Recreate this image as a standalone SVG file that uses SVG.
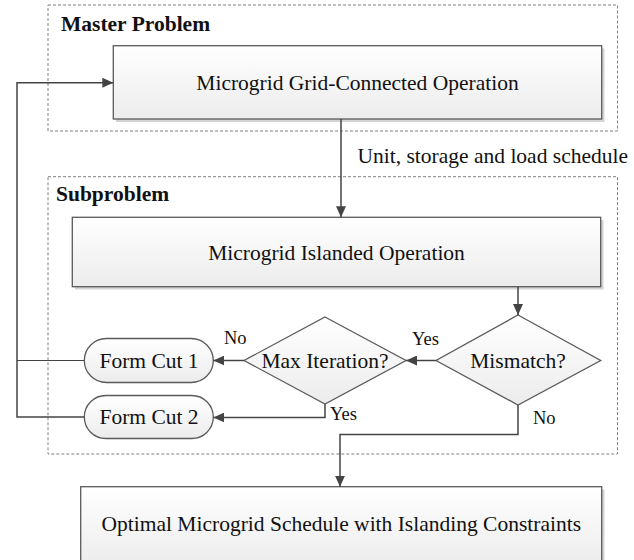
<svg xmlns="http://www.w3.org/2000/svg" width="634" height="560" viewBox="0 0 634 560">
<defs>
<linearGradient id="g" x1="0" y1="0" x2="0" y2="1">
<stop offset="0" stop-color="#ffffff"/>
<stop offset="1" stop-color="#ececec"/>
</linearGradient>
<marker id="ah" markerUnits="userSpaceOnUse" markerWidth="12" markerHeight="10" refX="11" refY="5" orient="auto">
<path d="M0,0 L11,5 L0,10 Z" fill="#444"/>
</marker>
</defs>
<style>
.frame{fill:none;stroke:#808080;stroke-width:1;stroke-dasharray:3,2}
.box{fill:url(#g);stroke:#5a5a5a;stroke-width:1.3}
.shadow{fill:#d4d4d4}
.t{font-family:"Liberation Serif","Times New Roman",serif;font-size:21.5px;fill:#111}
.h{font-family:"Liberation Serif","Times New Roman",serif;font-size:21.5px;font-weight:bold;fill:#111}
.l{font-family:"Liberation Serif","Times New Roman",serif;font-size:18.5px;fill:#111}
.c{fill:none;stroke:#444;stroke-width:1.5}
.a{marker-end:url(#ah)}
</style>
<rect width="634" height="560" fill="#fff"/>

<g id="master">
<rect class="frame" x="48" y="5" width="569.5" height="126"/>
<text class="h" x="61" y="31">Master Problem</text>
</g>
<g id="subproblem">
<rect class="frame" x="48" y="176.7" width="569.5" height="277.3"/>
<text class="h" x="56" y="200.7">Subproblem</text>
</g>

<g id="grid-connected">
<rect class="shadow" x="116" y="48.5" width="488.5" height="73.5"/>
<rect class="box" x="113.3" y="45.7" width="488.4" height="73.3"/>
<text class="t" x="357.5" y="90" text-anchor="middle">Microgrid Grid-Connected Operation</text>
</g>

<g id="islanded">
<rect class="shadow" x="75" y="220" width="528.5" height="69.5"/>
<rect class="box" x="72.3" y="217.3" width="528.4" height="69.4"/>
<text class="t" x="336.5" y="259.5" text-anchor="middle">Microgrid Islanded Operation</text>
</g>

<g id="mismatch">
<polygon class="box" points="518,315 600.7,360.5 518,405 436,360.5"/>
<text class="t" x="518" y="368" text-anchor="middle">Mismatch?</text>
</g>

<g id="max-iteration">
<polygon class="box" points="325,317 406,360.5 325,404 244,360.5"/>
<text class="t" x="325" y="368" text-anchor="middle">Max Iteration?</text>
</g>

<g id="form-cut-1">
<rect class="box" x="84.3" y="338.5" width="129" height="44" rx="22" ry="22"/>
<text class="t" x="149" y="367.7" text-anchor="middle">Form Cut 1</text>
</g>

<g id="form-cut-2">
<rect class="box" x="84.3" y="395.5" width="129" height="43" rx="21.5" ry="21.5"/>
<text class="t" x="149" y="424" text-anchor="middle">Form Cut 2</text>
</g>

<g id="optimal">
<rect class="shadow" x="83.5" y="489.5" width="521" height="80"/>
<rect class="box" x="80.7" y="486.7" width="521" height="80"/>
<text class="t" x="341.3" y="530.7" text-anchor="middle">Optimal Microgrid Schedule with Islanding Constraints</text>
</g>

<g id="connectors">
<path class="c a" d="M341,119 V217.3"/>
<path class="c a" d="M518,286.7 V315"/>
<path class="c a" d="M436,360.5 H406"/>
<path class="c a" d="M244,360.5 H213.3"/>
<path class="c a" d="M325,404 V417.5 H213.3"/>
<path class="c a" d="M518,405 V434.5 H340 V486.7"/>
<path class="c" d="M84.3,360.5 H17" style="stroke-width:1.2"/>
<path class="c a" d="M84.3,417 H17 V82.7 H113.3"/>
<text class="l" x="224" y="344">No</text>
<text class="l" x="412" y="345">Yes</text>
<text class="l" x="330" y="420">Yes</text>
<text class="l" x="533" y="424">No</text>
<text class="t" x="628" y="163" text-anchor="end">Unit, storage and load schedule</text>
</g>
</svg>
